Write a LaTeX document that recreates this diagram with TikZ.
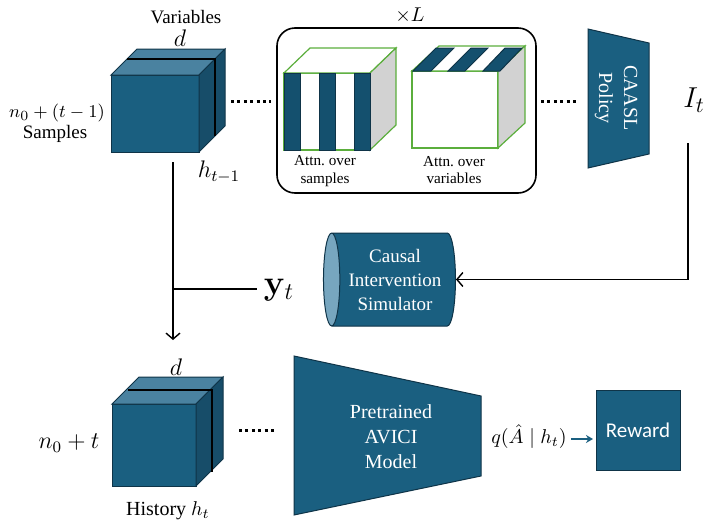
\documentclass[tikz,border=0pt]{standalone}
\usepackage[no-math]{fontspec}
\setmainfont{Liberation Serif}
\newfontfamily\labelsans{Carlito}
\usetikzlibrary{shapes.geometric,arrows.meta,calc}

\definecolor{cubefront}{HTML}{1A5F80}
\definecolor{cubetop}{HTML}{4A82A0}
\definecolor{cubeside}{HTML}{174D69}
\definecolor{edgedark}{HTML}{0F3448}
\definecolor{capblue}{HTML}{77A6BF}
\definecolor{attngreen}{HTML}{5BAE3C}
\definecolor{attngray}{HTML}{D2D2D2}
\definecolor{stripeblue}{HTML}{14506E}

\tikzset{
  face/.style={draw=edgedark, line width=0.5pt},
  tealblock/.style={fill=cubefront, draw=edgedark, line width=0.5pt, outer sep=0pt},
  whitetext/.style={text=white, align=center, font=\fontsize{10}{12.5}\selectfont},
  dotline/.style={line width=1.5pt, dash pattern=on 1.5pt off 1.7pt},
  wire/.style={line width=0.7pt},
  flow/.style={line width=0.7pt, -{Straight Barb[length=3pt,width=7pt]}},
  attnface/.style={fill=white, draw=attngreen, line width=0.6pt, outer sep=0pt, inner sep=0pt},
  attnedge/.style={draw=attngreen, line width=0.6pt},
  stripe/.style={fill=stripeblue, draw=edgedark, line width=0.5pt},
  divider/.style={line width=0.8pt, draw=black},
}

\begin{document}
\begin{tikzpicture}[x=0.5pt,y=-0.5pt]
\useasboundingbox (0,0) rectangle (703,525);

% ---------- data cube h_{t-1} ----------
\node[tealblock, minimum width=44pt, minimum height=38.5pt, inner sep=0pt] (hprev) at (155,113.5) {};
\filldraw[face, fill=cubetop] (hprev.north west) -- ++(26,-26) -- ++(88,0) -- (hprev.north east) -- cycle;
\filldraw[face, fill=cubeside] (hprev.north east) -- ++(26,-26) -- ++(0,77) -- (hprev.south east) -- cycle;
\draw[divider] ($(hprev.north west)+(16,-16)$) -- ++(88,0) -- ++(0,77);

\node[font=\fontsize{9.5}{11}\selectfont] (varlabel) at (186,17) {Variables};
\node[font=\fontsize{12}{14}\selectfont] (dtop) at (180,38) {$d$};
\node[font=\fontsize{9.5}{11}\selectfont] (nprev) at (57,113) {$n_0+(t-1)$};
\node[font=\fontsize{9.5}{11}\selectfont] (samplabel) at (55,134) {Samples};
\node[font=\fontsize{12}{14}\selectfont] (hprevlabel) at (219,172) {$h_{t-1}$};

% ---------- L stacked attention layers ----------
\node[draw, line width=0.8pt, rounded corners=9pt, minimum width=129.5pt, minimum height=82.5pt] (loop) at (406.5,110.5) {};
\node[font=\fontsize{10}{12}\selectfont] (times) at (410,15) {$\times L$};

% attention over samples
\node[attnface, minimum width=43pt, minimum height=38.5pt] (sampattn) at (327,111.5) {};
\filldraw[attnedge, fill=white] (sampattn.north west) -- ++(26,-25) -- ++(86,0) -- (sampattn.north east) -- cycle;
\filldraw[attnedge, fill=attngray] (sampattn.north east) -- ++(26,-25) -- ++(0,77) -- (sampattn.south east) -- cycle;
\filldraw[stripe] (284,73) rectangle (300,150);
\filldraw[stripe] (319,73) rectangle (335,150);
\filldraw[stripe] (354,73) rectangle (370,150);
\node[align=center, font=\fontsize{7.6}{8.8}\selectfont] (samptext) at (325,171) {Attn.\ over\\samples};

% attention over variables
\node[attnface, minimum width=43pt, minimum height=38.5pt] (varattn) at (455,109.5) {};
\filldraw[attnedge, fill=white] (varattn.north west) -- ++(27,-25) -- ++(86,0) -- (varattn.north east) -- cycle;
\filldraw[attnedge, fill=attngray] (varattn.north east) -- ++(27,-25) -- ++(0,77) -- (varattn.south east) -- cycle;
\filldraw[stripe] (413,71) -- (431,71) -- (454,48) -- (436,48) -- cycle;
\filldraw[stripe] (448,71) -- (465,71) -- (488,48) -- (471,48) -- cycle;
\filldraw[stripe] (483,71) -- (500,71) -- (522,48) -- (505,48) -- cycle;
\node[align=center, font=\fontsize{7.6}{8.8}\selectfont] (vartext) at (454,170) {Attn.\ over\\variables};

% ---------- CAASL policy ----------
\filldraw[tealblock] (588,29) -- (649,43) -- (649,154) -- (588,168) -- cycle;
\node[whitetext, rotate=-90] (policy) at (616,98) {CAASL\\Policy};
\node[font=\fontsize{15}{17}\selectfont] (It) at (694,100) {$I_t$};

% dotted links along the top row
\coordinate (dA1) at (231,101);
\coordinate (dA2) at (271,101);
\coordinate (dB1) at (541,101);
\coordinate (dB2) at (577,101);
\draw[dotline] (dA1) -- (dA2);
\draw[dotline] (dB1) -- (dB2);

% ---------- simulator ----------
\node[cylinder, shape border rotate=180, aspect=0.25, minimum height=66pt, minimum width=46.5pt,
      cylinder uses custom fill, cylinder body fill=cubefront, cylinder end fill=capblue,
      draw=edgedark, line width=0.5pt, text=white, align=center, inner sep=1pt,
      font=\fontsize{9.5}{12}\selectfont] (sim) at (395,279.5) {Causal\\Intervention\\Simulator};

\node[font=\fontsize{16.5}{18}\selectfont] (yt) at (279,290) {$\mathbf{y}_t$};

% feedback wiring
\coordinate (itdrop) at (688,143);
\draw[flow] (itdrop) |- (sim.east);
\coordinate (vtop) at (173,162);
\coordinate (vjoin) at (173,289);
\coordinate (vend) at (173,340);
\draw[wire] (vtop) -- (vjoin);
\draw[flow] (vjoin) -- (vend);
\draw[wire] (vjoin) -- (vjoin -| yt.west);

% ---------- data cube h_t ----------
\node[tealblock, minimum width=42pt, minimum height=41pt, inner sep=0pt] (hcur) at (154,445) {};
\filldraw[face, fill=cubetop] (hcur.north west) -- ++(27,-27) -- ++(84,0) -- (hcur.north east) -- cycle;
\filldraw[face, fill=cubeside] (hcur.north east) -- ++(27,-27) -- ++(0,82) -- (hcur.south east) -- cycle;
\draw[divider] ($(hcur.north west)+(16,-14)$) -- ++(84,0) -- ++(0,82);

\node[font=\fontsize{12}{14}\selectfont] (dbot) at (176,367) {$d$};
\node[font=\fontsize{11.5}{13}\selectfont] (ncur) at (69,443) {$n_0+t$};
\node[font=\fontsize{10}{12}\selectfont] (histlabel) at (168,511) {History $h_t$};

\coordinate (dC1) at (239,430);
\coordinate (dC2) at (276,430);
\draw[dotline] (dC1) -- (dC2);

% ---------- AVICI model and reward ----------
\filldraw[tealblock] (294,356) -- (481,396) -- (481,476) -- (294,515) -- cycle;
\node[whitetext] (avici) at (391,437) {Pretrained\\AVICI\\Model};

\node[font=\fontsize{10}{12}\selectfont, inner sep=2pt] (post) at (529,437) {$q(\hat{A}\mid h_t)$};
\node[tealblock, minimum width=42pt, minimum height=40pt, text=white,
      font=\labelsans\fontsize{10.5}{12}\selectfont] (reward) at (638,430) {Reward};
\draw[draw=cubefront, line width=0.8pt, -{Stealth[length=3.5pt,width=4pt]}, shorten >=1.5pt]
  ([yshift=-1pt]post.east) -- ([yshift=-1pt]post.east -| reward.west);
\end{tikzpicture}
\end{document}
